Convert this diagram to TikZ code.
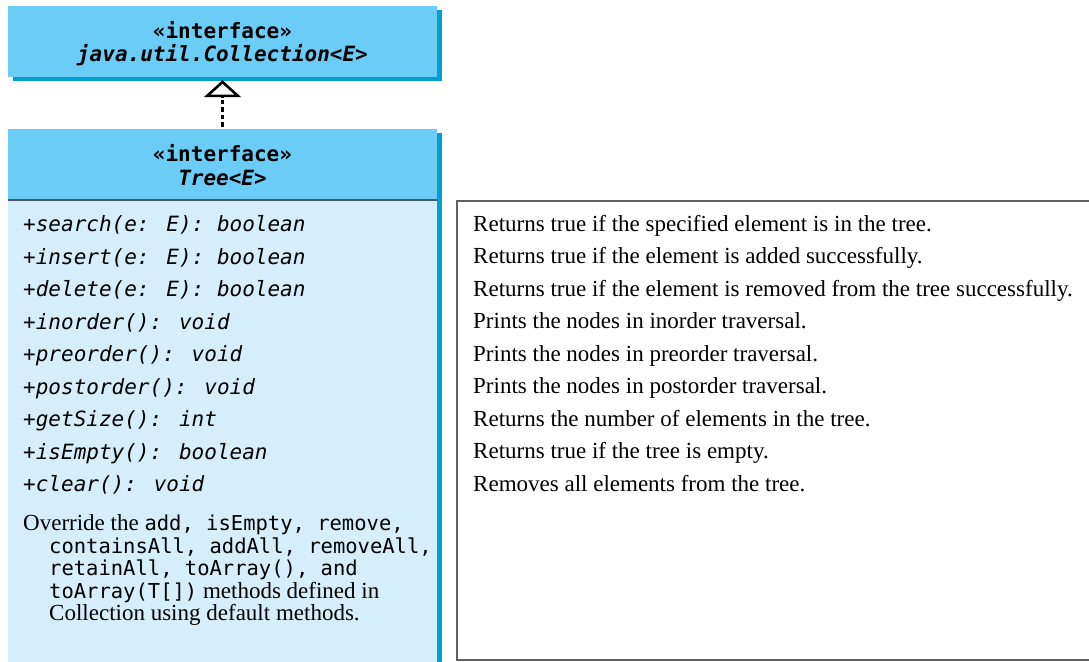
\documentclass[tikz,border=0pt]{standalone}
\usepackage{fontspec}
\setmainfont{Liberation Serif}
\newfontfamily\monofont{DejaVu Sans Mono}
\newfontfamily\notemonofont{DejaVu Sans Mono}
\newcommand\hdrfont{\monofont\bfseries\fontsize{21}{24}\selectfont}
\newcommand\methfont{\monofont\itshape\fontsize{21}{24}\selectfont}
\newcommand\descfont{\fontsize{23}{28}\selectfont}
\newcommand\notefont{\fontsize{23}{27}\selectfont}
\newcommand\codetxt[1]{{\notemonofont\fontsize{20.5}{23}\selectfont #1}}
\usetikzlibrary{arrows.meta,shadows}
\definecolor{hdr}{HTML}{6BCDF5}
\definecolor{shd}{HTML}{00A0D2}
\definecolor{bodyc}{HTML}{D5EEFB}
\definecolor{sepc}{HTML}{4A5560}
\definecolor{notec}{HTML}{606060}
\begin{document}
\begin{tikzpicture}[x=1pt,y=-1pt,
  hdrbox/.style={fill=hdr, draw=none, inner sep=0pt, minimum width=429pt,
    drop shadow={shadow xshift=4.5pt, shadow yshift=-4pt, fill=shd, opacity=1}},
  bodybox/.style={fill=bodyc, draw=none, inner sep=0pt, minimum width=429pt,
    drop shadow={shadow xshift=4.5pt, shadow yshift=0pt, fill=shd, opacity=1}},
  sttext/.style={font=\hdrfont, inner sep=0pt, anchor=base},
  nametext/.style={font=\hdrfont\itshape, inner sep=0pt, anchor=base},
  meth/.style={font=\methfont, inner sep=0pt, anchor=base west},
  desc/.style={font=\descfont, inner sep=0pt, anchor=base west},
  notetext/.style={font=\notefont, inner sep=0pt, anchor=base west},
  realize/.style={draw=black, line width=2.2pt, dash pattern=on 4.5pt off 3pt,
    -{Triangle[open, length=17pt, width=37pt, line width=2.6pt, fill=white]}},
  notebox/.style={draw=notec, line width=1.6pt, fill=white, inner sep=0pt},
]
\useasboundingbox (0,0) rectangle (1089,661);
\fill[white] (0,0) rectangle (1089,661);

% Collection interface
\node[hdrbox, minimum height=71pt] (coll) at (222.5,41.5) {};
\node[sttext] (collst) at (222.5,38.5) {«interface»};
\node[nametext] (collname) at (222.5,62) {java.util.Collection<E>};

% Tree interface
\node[hdrbox, minimum height=71pt] (treehdr) at (222.5,164.5) {};
\node[bodybox, minimum height=480pt] (treebody) at (222.5,440) {};
\draw[sepc, line width=2pt] (treehdr.south west) -- (treehdr.south east);
\node[sttext] (treest) at (222.5,161) {«interface»};
\node[nametext] (treename) at (222.5,185) {Tree<E>};

% realization
\draw[realize, shorten <=2pt] (treehdr.north) -- ([yshift=-3pt]coll.south);

% methods
\foreach \t [count=\i] in {{+search(e: E): boolean},{+insert(e: E): boolean},{+delete(e: E): boolean},{+inorder(): void},{+preorder(): void},{+postorder(): void},{+getSize(): int},{+isEmpty(): boolean},{+clear(): void}}{
  \node[meth] (m\i) at (23,{231.5+(\i-1)*32.5}) {\t};
}

% note in class
\node[notetext] (n1) at (23,530.5) {Override the \codetxt{add, isEmpty, remove,}};
\node[notetext] (n2) at (49,553) {\codetxt{containsAll, addAll, removeAll,}};
\node[notetext] (n3) at (49,575.5) {\codetxt{retainAll, toArray(), and}};
\node[notetext] (n4) at (49,598) {\codetxt{toArray(T[])} methods defined in};
\node[notetext] (n5) at (49,620.5) {Collection using default methods.};

% description box
\node[notebox, minimum width=643pt, minimum height=459pt] (notes) at (778.5,430.5) {};
\foreach \t [count=\i] in {{Returns true if the specified element is in the tree.},{Returns true if the element is added successfully.},{Returns true if the element is removed from the tree successfully.},{Prints the nodes in inorder traversal.},{Prints the nodes in preorder traversal.},{Prints the nodes in postorder traversal.},{Returns the number of elements in the tree.},{Returns true if the tree is empty.},{Removes all elements from the tree.}}{
  \node[desc] (d\i) at (473,{231+(\i-1)*32.5}) {\t};
}
\end{tikzpicture}
\end{document}
